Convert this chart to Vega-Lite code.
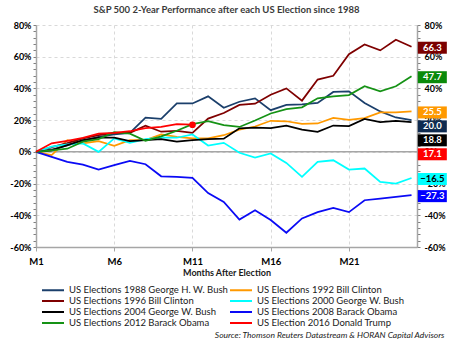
{
  "$schema": "https://vega.github.io/schema/vega-lite/v6.json",
  "autosize": {"type": "none"},
  "padding": {"left": 36, "top": 25, "right": 36, "bottom": 99},
  "width": 381,
  "height": 222,
  "background": "white",
  "title": {
    "text": "S&P 500 2-Year Performance after each US Election since 1988",
    "anchor": "middle",
    "frame": "group",
    "baseline": "bottom",
    "offset": -3,
    "font": "Lato",
    "fontSize": 9.5,
    "fontWeight": "bold",
    "color": "#3a3a3a"
  },
  "config": {
    "view": {"stroke": null},
    "axis": {"labelFont": "Lato", "titleFont": "Lato"},
    "legend": {"labelFont": "Lato"}
  },
  "data": {
    "values": [
      {"series": "US Elections 1988 George H. W. Bush", "month": 1, "value": 0},
      {"series": "US Elections 1988 George H. W. Bush", "month": 2, "value": 1.5},
      {"series": "US Elections 1988 George H. W. Bush", "month": 3, "value": 4},
      {"series": "US Elections 1988 George H. W. Bush", "month": 4, "value": 7},
      {"series": "US Elections 1988 George H. W. Bush", "month": 5, "value": 9.5},
      {"series": "US Elections 1988 George H. W. Bush", "month": 6, "value": 11},
      {"series": "US Elections 1988 George H. W. Bush", "month": 7, "value": 12},
      {"series": "US Elections 1988 George H. W. Bush", "month": 8, "value": 21.6},
      {"series": "US Elections 1988 George H. W. Bush", "month": 9, "value": 20.8},
      {"series": "US Elections 1988 George H. W. Bush", "month": 10, "value": 30.5},
      {"series": "US Elections 1988 George H. W. Bush", "month": 11, "value": 30.5},
      {"series": "US Elections 1988 George H. W. Bush", "month": 12, "value": 35},
      {"series": "US Elections 1988 George H. W. Bush", "month": 13, "value": 27.8},
      {"series": "US Elections 1988 George H. W. Bush", "month": 14, "value": 31.6},
      {"series": "US Elections 1988 George H. W. Bush", "month": 15, "value": 33.7},
      {"series": "US Elections 1988 George H. W. Bush", "month": 16, "value": 26.3},
      {"series": "US Elections 1988 George H. W. Bush", "month": 17, "value": 29.6},
      {"series": "US Elections 1988 George H. W. Bush", "month": 18, "value": 29.9},
      {"series": "US Elections 1988 George H. W. Bush", "month": 19, "value": 30.9},
      {"series": "US Elections 1988 George H. W. Bush", "month": 20, "value": 37.8},
      {"series": "US Elections 1988 George H. W. Bush", "month": 21, "value": 38.2},
      {"series": "US Elections 1988 George H. W. Bush", "month": 22, "value": 30.8},
      {"series": "US Elections 1988 George H. W. Bush", "month": 23, "value": 25.5},
      {"series": "US Elections 1988 George H. W. Bush", "month": 24, "value": 21.7},
      {"series": "US Elections 1988 George H. W. Bush", "month": 25, "value": 20.0},
      {"series": "US Elections 1992 Bill Clinton", "month": 1, "value": 0},
      {"series": "US Elections 1992 Bill Clinton", "month": 2, "value": -2},
      {"series": "US Elections 1992 Bill Clinton", "month": 3, "value": 7.4},
      {"series": "US Elections 1992 Bill Clinton", "month": 4, "value": 5.3},
      {"series": "US Elections 1992 Bill Clinton", "month": 5, "value": 6.7},
      {"series": "US Elections 1992 Bill Clinton", "month": 6, "value": 3.8},
      {"series": "US Elections 1992 Bill Clinton", "month": 7, "value": 7.4},
      {"series": "US Elections 1992 Bill Clinton", "month": 8, "value": 7.4},
      {"series": "US Elections 1992 Bill Clinton", "month": 9, "value": 11},
      {"series": "US Elections 1992 Bill Clinton", "month": 10, "value": 9.5},
      {"series": "US Elections 1992 Bill Clinton", "month": 11, "value": 8.5},
      {"series": "US Elections 1992 Bill Clinton", "month": 12, "value": 8.5},
      {"series": "US Elections 1992 Bill Clinton", "month": 13, "value": 10.5},
      {"series": "US Elections 1992 Bill Clinton", "month": 14, "value": 14},
      {"series": "US Elections 1992 Bill Clinton", "month": 15, "value": 16},
      {"series": "US Elections 1992 Bill Clinton", "month": 16, "value": 19.6},
      {"series": "US Elections 1992 Bill Clinton", "month": 17, "value": 19.3},
      {"series": "US Elections 1992 Bill Clinton", "month": 18, "value": 17.6},
      {"series": "US Elections 1992 Bill Clinton", "month": 19, "value": 17.9},
      {"series": "US Elections 1992 Bill Clinton", "month": 20, "value": 21.4},
      {"series": "US Elections 1992 Bill Clinton", "month": 21, "value": 20.1},
      {"series": "US Elections 1992 Bill Clinton", "month": 22, "value": 21.3},
      {"series": "US Elections 1992 Bill Clinton", "month": 23, "value": 24.9},
      {"series": "US Elections 1992 Bill Clinton", "month": 24, "value": 24.9},
      {"series": "US Elections 1992 Bill Clinton", "month": 25, "value": 25.5},
      {"series": "US Elections 1996 Bill Clinton", "month": 1, "value": 0},
      {"series": "US Elections 1996 Bill Clinton", "month": 2, "value": 3},
      {"series": "US Elections 1996 Bill Clinton", "month": 3, "value": 5.5},
      {"series": "US Elections 1996 Bill Clinton", "month": 4, "value": 8.5},
      {"series": "US Elections 1996 Bill Clinton", "month": 5, "value": 10.5},
      {"series": "US Elections 1996 Bill Clinton", "month": 6, "value": 12},
      {"series": "US Elections 1996 Bill Clinton", "month": 7, "value": 12},
      {"series": "US Elections 1996 Bill Clinton", "month": 8, "value": 16.5},
      {"series": "US Elections 1996 Bill Clinton", "month": 9, "value": 12.7},
      {"series": "US Elections 1996 Bill Clinton", "month": 10, "value": 13.3},
      {"series": "US Elections 1996 Bill Clinton", "month": 11, "value": 12},
      {"series": "US Elections 1996 Bill Clinton", "month": 12, "value": 21},
      {"series": "US Elections 1996 Bill Clinton", "month": 13, "value": 24.5},
      {"series": "US Elections 1996 Bill Clinton", "month": 14, "value": 29.6},
      {"series": "US Elections 1996 Bill Clinton", "month": 15, "value": 30.4},
      {"series": "US Elections 1996 Bill Clinton", "month": 16, "value": 36},
      {"series": "US Elections 1996 Bill Clinton", "month": 17, "value": 40},
      {"series": "US Elections 1996 Bill Clinton", "month": 18, "value": 32.3},
      {"series": "US Elections 1996 Bill Clinton", "month": 19, "value": 45.6},
      {"series": "US Elections 1996 Bill Clinton", "month": 20, "value": 48},
      {"series": "US Elections 1996 Bill Clinton", "month": 21, "value": 61.6},
      {"series": "US Elections 1996 Bill Clinton", "month": 22, "value": 67.7},
      {"series": "US Elections 1996 Bill Clinton", "month": 23, "value": 64},
      {"series": "US Elections 1996 Bill Clinton", "month": 24, "value": 70.7},
      {"series": "US Elections 1996 Bill Clinton", "month": 25, "value": 66.3},
      {"series": "US Elections 2000 George W. Bush", "month": 1, "value": 0},
      {"series": "US Elections 2000 George W. Bush", "month": 2, "value": 3.3},
      {"series": "US Elections 2000 George W. Bush", "month": 3, "value": 4.7},
      {"series": "US Elections 2000 George W. Bush", "month": 4, "value": 5.3},
      {"series": "US Elections 2000 George W. Bush", "month": 5, "value": 0},
      {"series": "US Elections 2000 George W. Bush", "month": 6, "value": 8.5},
      {"series": "US Elections 2000 George W. Bush", "month": 7, "value": 5.7},
      {"series": "US Elections 2000 George W. Bush", "month": 8, "value": 8},
      {"series": "US Elections 2000 George W. Bush", "month": 9, "value": 8.9},
      {"series": "US Elections 2000 George W. Bush", "month": 10, "value": 8.9},
      {"series": "US Elections 2000 George W. Bush", "month": 11, "value": 11},
      {"series": "US Elections 2000 George W. Bush", "month": 12, "value": 4},
      {"series": "US Elections 2000 George W. Bush", "month": 13, "value": 5.7},
      {"series": "US Elections 2000 George W. Bush", "month": 14, "value": -0.6},
      {"series": "US Elections 2000 George W. Bush", "month": 15, "value": -3.6},
      {"series": "US Elections 2000 George W. Bush", "month": 16, "value": -1},
      {"series": "US Elections 2000 George W. Bush", "month": 17, "value": -7},
      {"series": "US Elections 2000 George W. Bush", "month": 18, "value": -15.8},
      {"series": "US Elections 2000 George W. Bush", "month": 19, "value": -6.3},
      {"series": "US Elections 2000 George W. Bush", "month": 20, "value": -5.3},
      {"series": "US Elections 2000 George W. Bush", "month": 21, "value": -11.2},
      {"series": "US Elections 2000 George W. Bush", "month": 22, "value": -10.5},
      {"series": "US Elections 2000 George W. Bush", "month": 23, "value": -19},
      {"series": "US Elections 2000 George W. Bush", "month": 24, "value": -20},
      {"series": "US Elections 2000 George W. Bush", "month": 25, "value": -16.5},
      {"series": "US Elections 2004 George W. Bush", "month": 1, "value": 0},
      {"series": "US Elections 2004 George W. Bush", "month": 2, "value": 1},
      {"series": "US Elections 2004 George W. Bush", "month": 3, "value": 4.2},
      {"series": "US Elections 2004 George W. Bush", "month": 4, "value": 7.4},
      {"series": "US Elections 2004 George W. Bush", "month": 5, "value": 8.9},
      {"series": "US Elections 2004 George W. Bush", "month": 6, "value": 8.9},
      {"series": "US Elections 2004 George W. Bush", "month": 7, "value": 6.8},
      {"series": "US Elections 2004 George W. Bush", "month": 8, "value": 7.4},
      {"series": "US Elections 2004 George W. Bush", "month": 9, "value": 8},
      {"series": "US Elections 2004 George W. Bush", "month": 10, "value": 6.4},
      {"series": "US Elections 2004 George W. Bush", "month": 11, "value": 7.4},
      {"series": "US Elections 2004 George W. Bush", "month": 12, "value": 8},
      {"series": "US Elections 2004 George W. Bush", "month": 13, "value": 8.3},
      {"series": "US Elections 2004 George W. Bush", "month": 14, "value": 14.8},
      {"series": "US Elections 2004 George W. Bush", "month": 15, "value": 15.3},
      {"series": "US Elections 2004 George W. Bush", "month": 16, "value": 15},
      {"series": "US Elections 2004 George W. Bush", "month": 17, "value": 16.6},
      {"series": "US Elections 2004 George W. Bush", "month": 18, "value": 14},
      {"series": "US Elections 2004 George W. Bush", "month": 19, "value": 12.6},
      {"series": "US Elections 2004 George W. Bush", "month": 20, "value": 16.6},
      {"series": "US Elections 2004 George W. Bush", "month": 21, "value": 16.3},
      {"series": "US Elections 2004 George W. Bush", "month": 22, "value": 20.8},
      {"series": "US Elections 2004 George W. Bush", "month": 23, "value": 18.7},
      {"series": "US Elections 2004 George W. Bush", "month": 24, "value": 19.6},
      {"series": "US Elections 2004 George W. Bush", "month": 25, "value": 18.8},
      {"series": "US Elections 2008 Barack Obama", "month": 1, "value": 0},
      {"series": "US Elections 2008 Barack Obama", "month": 2, "value": -3.2},
      {"series": "US Elections 2008 Barack Obama", "month": 3, "value": -6.3},
      {"series": "US Elections 2008 Barack Obama", "month": 4, "value": -8},
      {"series": "US Elections 2008 Barack Obama", "month": 5, "value": -11.2},
      {"series": "US Elections 2008 Barack Obama", "month": 6, "value": -8.4},
      {"series": "US Elections 2008 Barack Obama", "month": 7, "value": -5.7},
      {"series": "US Elections 2008 Barack Obama", "month": 8, "value": -7.8},
      {"series": "US Elections 2008 Barack Obama", "month": 9, "value": -15.4},
      {"series": "US Elections 2008 Barack Obama", "month": 10, "value": -15.8},
      {"series": "US Elections 2008 Barack Obama", "month": 11, "value": -16.4},
      {"series": "US Elections 2008 Barack Obama", "month": 12, "value": -26},
      {"series": "US Elections 2008 Barack Obama", "month": 13, "value": -31.6},
      {"series": "US Elections 2008 Barack Obama", "month": 14, "value": -42.7},
      {"series": "US Elections 2008 Barack Obama", "month": 15, "value": -36.8},
      {"series": "US Elections 2008 Barack Obama", "month": 16, "value": -43},
      {"series": "US Elections 2008 Barack Obama", "month": 17, "value": -51},
      {"series": "US Elections 2008 Barack Obama", "month": 18, "value": -42},
      {"series": "US Elections 2008 Barack Obama", "month": 19, "value": -38},
      {"series": "US Elections 2008 Barack Obama", "month": 20, "value": -35.4},
      {"series": "US Elections 2008 Barack Obama", "month": 21, "value": -38},
      {"series": "US Elections 2008 Barack Obama", "month": 22, "value": -30.5},
      {"series": "US Elections 2008 Barack Obama", "month": 23, "value": -29.5},
      {"series": "US Elections 2008 Barack Obama", "month": 24, "value": -28.4},
      {"series": "US Elections 2008 Barack Obama", "month": 25, "value": -27.3},
      {"series": "US Elections 2012 Barack Obama", "month": 1, "value": 0},
      {"series": "US Elections 2012 Barack Obama", "month": 2, "value": 1},
      {"series": "US Elections 2012 Barack Obama", "month": 3, "value": 2},
      {"series": "US Elections 2012 Barack Obama", "month": 4, "value": 6.4},
      {"series": "US Elections 2012 Barack Obama", "month": 5, "value": 8},
      {"series": "US Elections 2012 Barack Obama", "month": 6, "value": 12.5},
      {"series": "US Elections 2012 Barack Obama", "month": 7, "value": 11.5},
      {"series": "US Elections 2012 Barack Obama", "month": 8, "value": 7},
      {"series": "US Elections 2012 Barack Obama", "month": 9, "value": 9.8},
      {"series": "US Elections 2012 Barack Obama", "month": 10, "value": 13.3},
      {"series": "US Elections 2012 Barack Obama", "month": 11, "value": 17.5},
      {"series": "US Elections 2012 Barack Obama", "month": 12, "value": 19.3},
      {"series": "US Elections 2012 Barack Obama", "month": 13, "value": 16.8},
      {"series": "US Elections 2012 Barack Obama", "month": 14, "value": 15.7},
      {"series": "US Elections 2012 Barack Obama", "month": 15, "value": 19.8},
      {"series": "US Elections 2012 Barack Obama", "month": 16, "value": 24.2},
      {"series": "US Elections 2012 Barack Obama", "month": 17, "value": 27},
      {"series": "US Elections 2012 Barack Obama", "month": 18, "value": 28.1},
      {"series": "US Elections 2012 Barack Obama", "month": 19, "value": 33.8},
      {"series": "US Elections 2012 Barack Obama", "month": 20, "value": 35},
      {"series": "US Elections 2012 Barack Obama", "month": 21, "value": 35.8},
      {"series": "US Elections 2012 Barack Obama", "month": 22, "value": 41.4},
      {"series": "US Elections 2012 Barack Obama", "month": 23, "value": 38.2},
      {"series": "US Elections 2012 Barack Obama", "month": 24, "value": 41.4},
      {"series": "US Elections 2012 Barack Obama", "month": 25, "value": 47.7},
      {"series": "US Election 2016 Donald Trump", "month": 1, "value": 0},
      {"series": "US Election 2016 Donald Trump", "month": 2, "value": 5.4},
      {"series": "US Election 2016 Donald Trump", "month": 3, "value": 6.9},
      {"series": "US Election 2016 Donald Trump", "month": 4, "value": 8.8},
      {"series": "US Election 2016 Donald Trump", "month": 5, "value": 11.5},
      {"series": "US Election 2016 Donald Trump", "month": 6, "value": 12},
      {"series": "US Election 2016 Donald Trump", "month": 7, "value": 13},
      {"series": "US Election 2016 Donald Trump", "month": 8, "value": 15},
      {"series": "US Election 2016 Donald Trump", "month": 9, "value": 15.8},
      {"series": "US Election 2016 Donald Trump", "month": 10, "value": 17.5},
      {"series": "US Election 2016 Donald Trump", "month": 11, "value": 17.1}
    ]
  },
  "layer": [
    {
      "data": {"values": [{}]},
      "mark": {"type": "rule", "color": "#A6A6A6", "strokeWidth": 1.5},
      "encoding": {
        "y": {"datum": 0, "type": "quantitative", "scale": {"domain": [-60, 80], "nice": false, "zero": false}, "axis": null}
      }
    },
    {
      "mark": {"type": "line", "strokeWidth": 1.75},
      "encoding": {
        "x": {
          "field": "month", "type": "quantitative",
          "scale": {"domain": [1, 25.35], "nice": false, "zero": false},
          "axis": {
            "orient": "bottom",
            "values": [1, 6, 11, 16, 21],
            "labelExpr": "'M' + datum.value",
            "title": "Months After Election",
            "titleFontSize": 9,
            "titleFontWeight": "bold",
            "titleColor": "#1a1a1a",
            "titlePadding": 3,
            "labelFontSize": 9.5,
            "labelFontWeight": "bold",
            "labelColor": "#000000",
            "labelPadding": 5,
            "tickSize": 4,
            "tickColor": "#A6A6A6",
            "domainColor": "#A6A6A6",
            "domainWidth": 1.5,
            "grid": true,
            "gridColor": "#D9D9D9",
            "gridDash": [3, 3],
            "labelFlush": false
          }
        },
        "y": {
          "field": "value", "type": "quantitative",
          "scale": {"domain": [-60, 80], "nice": false, "zero": false},
          "axis": {
            "orient": "left",
            "title": null,
            "values": [-60,-56,-52,-48,-44,-40,-36,-32,-28,-24,-20,-16,-12,-8,-4,0,4,8,12,16,20,24,28,32,36,40,44,48,52,56,60,64,68,72,76,80],
            "labelExpr": "datum.value % 20 === 0 ? datum.value + '%' : ''",
            "labelFontSize": 9,
            "labelFontWeight": "bold",
            "labelColor": "#000000",
            "labelPadding": 2,
            "tickSize": 3,
            "tickColor": "#7f7f7f",
            "domainColor": "#A6A6A6",
            "domainWidth": 1.5,
            "grid": true,
            "gridColor": "#D9D9D9",
            "gridDash": [3, 3],
            "gridOpacity": {"condition": {"test": "datum.value % 20 === 0", "value": 1}, "value": 0},
            "labelFlush": false
          }
        },
        "color": {
          "field": "series", "type": "nominal",
          "scale": {
            "domain": ["US Elections 1988 George H. W. Bush", "US Elections 1992 Bill Clinton", "US Elections 1996 Bill Clinton", "US Elections 2000 George W. Bush", "US Elections 2004 George W. Bush", "US Elections 2008 Barack Obama", "US Elections 2012 Barack Obama", "US Election 2016 Donald Trump"],
            "range": ["#1B3F6B", "#FF9900", "#7F0000", "#00FFFF", "#000000", "#0A0AF5", "#159215", "#FF0000"]
          },
          "legend": {
            "orient": "none",
            "direction": "horizontal",
            "legendX": 5,
            "legendY": 259,
            "columns": 2,
            "title": null,
            "padding": 0,
            "symbolType": "M-1,0H3.4",
            "symbolSize": 100,
            "symbolStrokeWidth": 2,
            "labelFontSize": 9.5,
            "labelColor": "#1a1a1a",
            "labelOffset": 16,
            "rowPadding": 0,
            "columnPadding": -8,
            "labelLimit": 0
          }
        }
      }
    },
    {
      "transform": [{"filter": "datum.series === 'US Election 2016 Donald Trump' && datum.month === 11"}],
      "mark": {"type": "circle", "size": 45, "opacity": 1, "color": "#FF0000"},
      "encoding": {
        "x": {"field": "month", "type": "quantitative", "scale": {"domain": [1, 25.35], "nice": false, "zero": false}, "axis": null},
        "y": {"field": "value", "type": "quantitative", "scale": {"domain": [-60, 80], "nice": false, "zero": false}, "axis": null}
      }
    },
    {
      "transform": [
        {"aggregate": [{"op": "argmax", "field": "month", "as": "last"}], "groupby": ["series"]},
        {"calculate": "datum.last.value", "as": "final"},
        {"window": [{"op": "row_number", "as": "r"}], "sort": [{"field": "final", "order": "descending"}]},
        {"calculate": "datum.final + datum.r * 8.8", "as": "k"},
        {"window": [{"op": "min", "field": "k", "as": "kmin"}], "sort": [{"field": "final", "order": "descending"}], "frame": [null, 0]},
        {"calculate": "datum.kmin - datum.r * 8.8", "as": "ly"}
      ],
      "mark": {"type": "tick", "orient": "horizontal", "size": 29, "thickness": 12, "opacity": 1, "yOffset": 1},
      "encoding": {
        "x": {
          "datum": 26.33, "type": "quantitative",
          "scale": {"domain": [1, 25.35], "nice": false, "zero": false},
          "axis": {
            "orient": "bottom",
            "labels": false, "ticks": false, "domain": false, "grid": false,
            "title": "Source: Thomson Reuters Datastream & HORAN Capital Advisors",
            "titleFont": "Lato",
            "titleFontStyle": "italic",
            "titleFontWeight": "normal",
            "titleFontSize": 8.5,
            "titleColor": "#1a1a1a",
            "titleAnchor": "end",
            "titleAlign": "right",
            "titleBaseline": "alphabetic",
            "titleX": 408,
            "titleY": 90
          }
        },
        "y": {
          "field": "ly", "type": "quantitative",
          "scale": {"domain": [-60, 80], "nice": false, "zero": false},
          "axis": {
            "orient": "right",
            "title": null,
            "values": [-60,-56,-52,-48,-44,-40,-36,-32,-28,-24,-20,-16,-12,-8,-4,0,4,8,12,16,20,24,28,32,36,40,44,48,52,56,60,64,68,72,76,80],
            "labelExpr": "datum.value % 20 === 0 ? datum.value + '%' : ''",
            "labelFontSize": 9,
            "labelFontWeight": "bold",
            "labelColor": "#000000",
            "labelPadding": 4,
            "tickSize": 3,
            "tickColor": "#7f7f7f",
            "domainColor": "#A6A6A6",
            "domainWidth": 1.5,
            "grid": false,
            "labelFlush": false
          }
        },
        "fill": {
          "field": "series", "type": "nominal",
          "scale": {
            "domain": ["US Elections 1988 George H. W. Bush", "US Elections 1992 Bill Clinton", "US Elections 1996 Bill Clinton", "US Elections 2000 George W. Bush", "US Elections 2004 George W. Bush", "US Elections 2008 Barack Obama", "US Elections 2012 Barack Obama", "US Election 2016 Donald Trump"],
            "range": ["#0F2B50", "#FF9900", "#7B0000", "#00FFFF", "#000000", "#0000FF", "#0A8A0A", "#FF0000"]
          },
          "legend": null
        }
      }
    },
    {
      "transform": [
        {"aggregate": [{"op": "argmax", "field": "month", "as": "last"}], "groupby": ["series"]},
        {"calculate": "datum.last.value", "as": "final"},
        {"window": [{"op": "row_number", "as": "r"}], "sort": [{"field": "final", "order": "descending"}]},
        {"calculate": "datum.final + datum.r * 8.8", "as": "k"},
        {"window": [{"op": "min", "field": "k", "as": "kmin"}], "sort": [{"field": "final", "order": "descending"}], "frame": [null, 0]},
        {"calculate": "datum.kmin - datum.r * 8.8", "as": "ly"}
      ],
      "mark": {"type": "text", "font": "Lato", "fontSize": 9.5, "fontWeight": "bold", "align": "center", "baseline": "middle", "yOffset": 1},
      "encoding": {
        "x": {"datum": 26.33, "type": "quantitative", "scale": {"domain": [1, 25.35], "nice": false, "zero": false}, "axis": null},
        "y": {"field": "ly", "type": "quantitative", "scale": {"domain": [-60, 80], "nice": false, "zero": false}, "axis": null},
        "text": {"field": "final", "type": "quantitative", "format": ".1f"},
        "color": {"condition": {"test": "datum.series === 'US Elections 2000 George W. Bush'", "value": "#000000"}, "value": "#FFFFFF"}
      }
    }
  ],
  "resolve": {"axis": {"x": "independent", "y": "independent"}}
}
